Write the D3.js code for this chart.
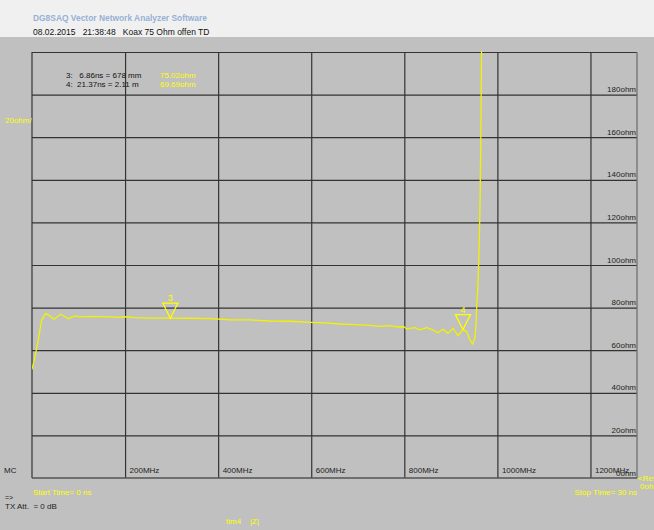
<!DOCTYPE html>
<html>
<head>
<meta charset="utf-8">
<script src="https://cdn.jsdelivr.net/npm/d3@7"></script>
<style>
  html, body { margin: 0; padding: 0; background: #c0c0c0; }
  svg { display: block; }
  text { font-family: "Liberation Sans", Arial, sans-serif; }
</style>
</head>
<body>
<script>
// TDR trace of an open 75 ohm coax: time (ns) vs. impedance (ohm)
const timeNs = [0.00, 0.15, 0.31, 0.48, 0.68, 0.89, 1.09, 1.42, 1.80, 2.13, 2.38, 2.68, 2.98, 3.37, 3.87,
  4.26, 4.61, 5.11, 5.85, 6.86, 7.83, 8.83, 9.82, 10.81, 11.80, 12.79, 13.79, 14.53, 15.27, 16.02,
  16.76, 17.26, 17.75, 18.10, 18.45, 18.58, 18.99, 19.24, 19.57, 19.88, 20.13, 20.38, 20.63, 20.88,
  21.12, 21.37, 21.56, 21.72, 21.85, 21.97, 22.02, 22.05, 22.10, 22.17, 22.22, 22.25, 22.27, 22.29, 22.32];
const impedanceOhm = [51.0, 56.9, 64.8, 74.2, 77.3, 76.1, 74.5, 76.9, 74.8, 76.1, 75.6, 75.8, 75.9, 75.8, 75.6,
  75.4, 75.7, 75.3, 75.1, 75.02, 75.0, 74.8, 74.3, 74.2, 73.7, 73.6, 73.1, 72.8, 72.3, 72.0,
  71.7, 71.2, 71.5, 70.9, 71.0, 70.0, 70.6, 69.5, 70.6, 69.5, 68.2, 69.8, 67.9, 70.3,
  66.8, 69.69, 68.7, 64.8, 62.8, 66.3, 72.8, 80.4, 88.3, 107.0, 130.5, 154.0, 177.5, 200.0, 230.0];

// Markers
const markerIds = [3, 4];
const markerTimes = [6.86, 21.37];
const markerOhms = [75.02, 69.69];
const markerDistances = ["678 mm", "2.11 m"];

// Axis ticks
const freqTicksMHz = [200, 400, 600, 800, 1000, 1200];
const ohmTicks = [0, 20, 40, 60, 80, 100, 120, 140, 160, 180];
const ohmGrid = [20, 40, 60, 80, 100, 120, 140, 160, 180, 200];

const W = 654, H = 530;
const L = 32, R = 637, T = 52, B = 478;
const plotW = R - L, plotH = B - T;

const svg = d3.select("body").append("svg").attr("width", W).attr("height", H);

// window header
svg.append("rect").attr("x", 0).attr("y", 0).attr("width", W).attr("height", 37).attr("fill", "#f0f0f0");
svg.append("rect").attr("x", 0).attr("y", 37).attr("width", W).attr("height", H - 37).attr("fill", "#c0c0c0");
svg.append("text").attr("x", 33).attr("y", 21).attr("font-size", 9.5).attr("font-weight", "bold")
  .attr("fill", "#97b0d6").attr("textLength", 174).attr("lengthAdjust", "spacingAndGlyphs")
  .text("DG8SAQ Vector Network Analyzer Software");
svg.append("text").attr("x", 33).attr("y", 35).attr("font-size", 8.5).attr("fill", "#111")
  .attr("xml:space", "preserve").text("08.02.2015   21:38:48   Koax 75 Ohm offen TD");

const x = d3.scaleLinear().domain([0, 30]).range([L, R]);
const xf = d3.scaleLinear().domain([0, 1300]).range([L, R]);
const y = d3.scaleLinear().domain([0, 200]).range([B, T]);

const g = svg.append("g");

// horizontal grid
const yGrid = d3.axisLeft(y).tickValues(ohmGrid).tickSize(-plotW).tickFormat("");
g.append("g").attr("transform", `translate(${L},0)`).call(yGrid)
  .call(s => s.select(".domain").remove())
  .call(s => s.selectAll("line").attr("stroke", "#333").attr("stroke-width", 1.2));

// vertical grid
const xGrid = d3.axisBottom(xf).tickValues(freqTicksMHz).tickSize(-plotH).tickFormat("");
g.append("g").attr("transform", `translate(0,${B})`).call(xGrid)
  .call(s => s.select(".domain").remove())
  .call(s => s.selectAll("line").attr("stroke", "#333").attr("stroke-width", 1.2));

// frame
g.append("line").attr("x1", L).attr("x2", L).attr("y1", T).attr("y2", B).attr("stroke", "#333").attr("stroke-width", 1.2);
g.append("line").attr("x1", R).attr("x2", R).attr("y1", T).attr("y2", B).attr("stroke", "#6a6a6a").attr("stroke-width", 1.2);
g.append("line").attr("x1", L).attr("x2", R).attr("y1", B).attr("y2", B).attr("stroke", "#555").attr("stroke-width", 1.4);

// right-hand impedance labels
const yLab = d3.axisLeft(y).tickValues(ohmTicks).tickSize(0).tickFormat(d => d + "ohm");
g.append("g").attr("transform", `translate(${R - 1},0)`).call(yLab)
  .call(s => s.select(".domain").remove())
  .call(s => s.selectAll("text").attr("x", 0).attr("dy", -3).attr("text-anchor", "end")
    .attr("font-size", 8).attr("fill", "#222").attr("font-family", "Liberation Sans, Arial, sans-serif"));

// frequency labels
const xLab = d3.axisBottom(xf).tickValues(freqTicksMHz).tickSize(0).tickFormat(d => d + "MHz");
g.append("g").attr("transform", `translate(0,${B})`).call(xLab)
  .call(s => s.select(".domain").remove())
  .call(s => s.selectAll("text").attr("y", -5).attr("dy", 0).attr("dx", 4).attr("text-anchor", "start")
    .attr("font-size", 8).attr("fill", "#222").attr("font-family", "Liberation Sans, Arial, sans-serif"));

// trace
svg.append("clipPath").attr("id", "plotClip").append("rect")
  .attr("x", L).attr("y", T - 1).attr("width", plotW).attr("height", plotH + 1);
const pts = timeNs.map((t, i) => [t, impedanceOhm[i]]);
const line = d3.line().x(d => x(d[0])).y(d => y(d[1]));
svg.append("path").datum(pts).attr("d", line).attr("clip-path", "url(#plotClip)")
  .attr("fill", "none").attr("stroke", "#f2f200").attr("stroke-width", 1.3).attr("stroke-linejoin", "round");

// markers
const yellow = "#ffff00";
markerIds.forEach((id, i) => {
  const mx = x(markerTimes[i]), my = y(markerOhms[i]);
  svg.append("path").attr("d", `M${mx - 7.5},${my - 15}L${mx + 7.5},${my - 15}L${mx},${my}Z`)
    .attr("fill", "none").attr("stroke", yellow).attr("stroke-width", 1.3);
  svg.append("text").attr("x", mx).attr("y", my - 17).attr("text-anchor", "middle")
    .attr("font-size", 9).attr("fill", yellow).text(id);
});

// marker readout
markerIds.forEach((id, i) => {
  const ty = 78 + i * 9.3;
  svg.append("text").attr("x", 66).attr("y", ty).attr("font-size", 8).attr("fill", "#111")
    .attr("xml:space", "preserve")
    .text(`${id}:${i === 0 ? "   " : "  "}${markerTimes[i].toFixed(2)}ns = ${markerDistances[i]}`);
  svg.append("text").attr("x", 160).attr("y", ty).attr("font-size", 8).attr("fill", yellow)
    .text(markerOhms[i].toFixed(2) + "ohm");
});

// side and bottom annotations
svg.append("text").attr("x", 5).attr("y", 123).attr("font-size", 8).attr("fill", yellow).text("20ohm/");
svg.append("text").attr("x", 4).attr("y", 473).attr("font-size", 8).attr("fill", "#222").text("MC");
svg.append("text").attr("x", 33).attr("y", 495).attr("font-size", 8).attr("fill", yellow).text("Start Time= 0 ns");
svg.append("text").attr("x", R).attr("y", 495).attr("text-anchor", "end").attr("font-size", 8).attr("fill", yellow).text("Stop Time= 30 ns");
svg.append("text").attr("x", 638).attr("y", 481).attr("font-size", 8).attr("fill", yellow).text("<Ref");
svg.append("text").attr("x", 640).attr("y", 489).attr("font-size", 8).attr("fill", yellow).text("0ohm");
svg.append("text").attr("x", 5).attr("y", 500).attr("font-size", 7).attr("fill", "#222").text("=>");
svg.append("text").attr("x", 5).attr("y", 509).attr("font-size", 8).attr("fill", "#222")
  .attr("xml:space", "preserve").text("TX Att.  = 0 dB");
svg.append("text").attr("x", 226).attr("y", 524).attr("font-size", 8).attr("fill", yellow)
  .attr("xml:space", "preserve").text("tim4    |Z|");
</script>
</body>
</html>
